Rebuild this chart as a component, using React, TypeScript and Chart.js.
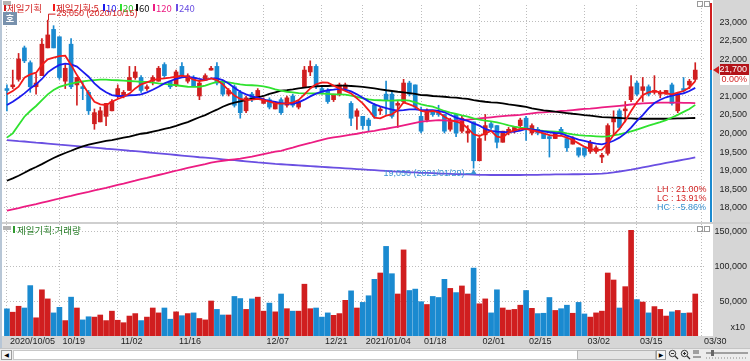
import React, { useEffect, useRef } from "react";
import { Chart, registerables } from "chart.js";

Chart.register(...registerables);

// ---------------- data ----------------
const DATES = [
  "2020/10/05","2020/10/06","2020/10/07","2020/10/08","2020/10/12","2020/10/13","2020/10/14","2020/10/15","2020/10/16",
  "2020/10/19","2020/10/20","2020/10/21","2020/10/22","2020/10/23",
  "2020/10/26","2020/10/27","2020/10/28","2020/10/29","2020/10/30",
  "2020/11/02","2020/11/03","2020/11/04","2020/11/05","2020/11/06",
  "2020/11/09","2020/11/10","2020/11/11","2020/11/12","2020/11/13",
  "2020/11/16","2020/11/17","2020/11/18","2020/11/19","2020/11/20",
  "2020/11/23","2020/11/24","2020/11/25","2020/11/26","2020/11/27",
  "2020/11/30","2020/12/01","2020/12/02","2020/12/03","2020/12/04",
  "2020/12/07","2020/12/08","2020/12/09","2020/12/10","2020/12/11",
  "2020/12/14","2020/12/15","2020/12/16","2020/12/17","2020/12/18",
  "2020/12/21","2020/12/22","2020/12/23","2020/12/24",
  "2020/12/28","2020/12/29","2020/12/30",
  "2021/01/04","2021/01/05","2021/01/06","2021/01/07","2021/01/08",
  "2021/01/11","2021/01/12","2021/01/13","2021/01/14","2021/01/15",
  "2021/01/18","2021/01/19","2021/01/20","2021/01/21","2021/01/22",
  "2021/01/25","2021/01/26","2021/01/27","2021/01/28","2021/01/29",
  "2021/02/01","2021/02/02","2021/02/03","2021/02/04","2021/02/05",
  "2021/02/08","2021/02/09","2021/02/10",
  "2021/02/15","2021/02/16","2021/02/17","2021/02/18","2021/02/19",
  "2021/02/22","2021/02/23","2021/02/24","2021/02/25","2021/02/26",
  "2021/03/02","2021/03/03","2021/03/04","2021/03/05",
  "2021/03/08","2021/03/09","2021/03/10","2021/03/11","2021/03/12",
  "2021/03/15","2021/03/16","2021/03/17","2021/03/18","2021/03/19",
  "2021/03/22","2021/03/23","2021/03/24","2021/03/25","2021/03/26",
  "2021/03/29","2021/03/30",
];

const AXIS_DATES = ["2020/10/05","2020/10/19","2020/11/02","2020/11/16","2020/12/07","2020/12/21","2021/01/04","2021/01/18","2021/02/01","2021/02/15","2021/03/02","2021/03/15","2021/03/30"];
const AXIS_LABELS = ["2020/10/05","10/19","11/02","11/16","12/07","12/21","2021/01/04","01/18","02/01","02/15","03/02","03/15","03/30"];

const PRICE_TICKS = [18000, 18500, 19000, 19500, 20000, 20500, 21000, 21500, 22000, 22500, 23000];
const VOLUME_TICKS = [50000, 100000, 150000];

const SERIES_NAMES = ["제일기획", "제일기획:5", "10", "20", "60", "120", "240"];
const VOLUME_NAME = "제일기획:거래량";
const CHANGE_TEXT = "0.00%";

const OPEN = [
  21200,21250,21450,22300,21900,21250,21550,22300,22800,22600,
  21400,22400,21300,21250,21100,20250,20300,20450,20600,21000,
  21000,21150,21500,21500,21200,21400,21400,21850,21400,21300,
  21800,21400,21500,21000,21450,21700,21800,21350,21050,21250,
  21100,20600,21050,20950,20800,20900,20650,20900,20750,21000,
  20700,21250,21650,21800,21200,21150,20900,21050,21200,20800,
  20450,20450,20350,20750,20600,21050,21050,20750,20850,21350,
  21300,20450,20350,20600,20550,20500,20100,20500,20050,20000,
  20300,19250,19950,20250,20200,19750,20000,20050,20200,20400,
  20000,20100,20000,19900,19850,20100,19850,19700,19600,19600,
  19500,19500,19350,19450,20300,20600,20600,20900,21350,21150,
  21250,21100,21050,21050,21300,20600,21200,21300,21450,
];
const HIGH = [
  21300,21700,22150,22350,21950,21600,22550,23050,22900,22600,
  21850,22550,21500,21400,21150,20650,20700,20800,20900,21300,
  21150,21800,21800,21550,21300,21550,21800,21900,21400,21700,
  21900,21600,21550,21400,21600,21800,21900,21400,21200,21300,
  21150,21000,21100,21200,20950,20950,20850,20950,21000,21050,
  20900,21800,21950,21850,21250,21200,21050,21350,21350,20850,
  20650,20450,20400,20800,20700,21400,21100,20850,21450,21400,
  21300,20700,20650,20600,20750,20500,20400,20500,20450,20200,
  20300,19900,20500,20300,20200,20050,20150,20150,20400,20450,
  20250,20150,20000,19950,20000,20150,19900,19900,19600,19600,
  19800,19650,19450,20250,20600,20650,20850,21550,21400,21500,
  21300,21550,21150,21150,21350,21100,21500,21450,21900,
];
const LOW = [
  20600,21200,21400,21900,21100,21050,21550,22300,22300,21450,
  21200,21200,20750,20900,20500,20100,20300,20200,20600,20950,
  20950,21150,21450,21100,21150,21300,21400,21500,21200,21250,
  21500,21350,21250,20900,21450,21700,21300,21000,21000,20700,
  20400,20550,20850,20900,20800,20650,20650,20500,20700,20700,
  20650,21250,21550,21200,21050,20800,20850,21000,21150,20200,
  20100,20100,20050,20400,20500,20500,20400,20150,20800,21000,
  20650,20000,20300,20450,20450,20000,20050,19900,20000,19750,
  19050,19250,19800,20100,19600,19750,19950,20000,20150,19800,
  19950,19950,19850,19350,19850,19950,19500,19700,19350,19350,
  19450,19450,19200,19400,19950,20100,20300,20850,21000,20850,
  21000,21050,20950,21050,20750,20550,21100,21200,21400,
];
const CLOSE = [
  21150,21300,22000,21950,21250,21350,22400,22650,22300,21500,
  21750,21250,21500,21200,20600,20550,20600,20800,20850,21200,
  21100,21500,21650,21150,21250,21500,21750,21550,21250,21650,
  21550,21550,21250,21350,21550,21750,21350,21050,21150,20750,
  20550,20950,20900,21150,20900,20700,20800,20550,20950,20750,
  20850,21700,21800,21250,21100,20850,21050,21300,21300,20400,
  20600,20200,20200,20450,20650,20900,20450,20800,21350,21050,
  20700,20050,20600,20500,20500,20050,20350,20000,20400,20050,
  19250,19850,20200,20150,19750,20050,20100,20150,20350,20100,
  20200,20000,19850,19850,20000,20000,19600,19850,19400,19400,
  19750,19600,19400,20200,20400,20150,20650,21250,21050,21250,
  21050,21150,21100,21150,20800,21050,21150,21400,21700,
];
const VOLUME = [
  38800,34000,42500,40000,72000,26000,66000,53000,33000,41000,
  22000,55500,40000,23000,27500,27000,30000,22000,35500,22500,
  19000,28500,32000,22000,27000,40000,33000,40000,24000,34500,
  29000,32000,33000,25000,23000,50000,38000,30000,30000,56500,
  53500,38000,53000,55500,35500,47000,34500,60000,39000,35500,
  35500,74000,39000,40000,27000,33000,29500,32000,51000,64500,
  40000,48000,57500,81000,90000,128000,89000,60000,123000,65000,
  67000,49000,45000,56500,55000,81000,68000,62000,71500,60000,
  97000,46000,53000,33000,66000,40000,37000,38000,44000,65000,
  39500,32000,32500,55000,36500,39000,44000,32500,48000,31500,
  27000,33000,35500,90000,80000,40000,70500,151000,52000,48500,
  33000,42000,38000,28500,34500,36500,32500,33000,60000,
];
const MA5 = [
  21045,21135,21250,21495,21585,21630,21840,21990,22035,22080,
  22090,21840,21565,21315,21070,20845,20775,20755,20845,20920,
  20980,21065,21205,21315,21370,21430,21460,21475,21495,21520,
  21550,21520,21440,21405,21430,21475,21430,21315,21160,21010,
  20920,20890,20900,20920,20890,20845,20800,20795,20800,20820,
  20890,21045,21205,21315,21370,21360,21280,21205,21135,21070,
  20935,20800,20620,20415,20395,20470,20505,20620,20830,20775,
  20710,20595,20575,20595,20560,20440,20350,20305,20260,20125,
  19965,19920,19990,20055,19900,19875,20020,20070,20110,20110,
  20070,20035,19990,19945,19920,19930,19875,19810,19720,19630,
  19565,19540,19550,19720,19945,20110,20325,20595,20830,21025,
  21100,21135,21100,21070,21045,21090,21135,21230,21400,
];
const MA10 = [
  20755,20845,20955,21070,21205,21315,21460,21640,21750,21840,
  21875,21855,21795,21660,21520,21340,21205,21100,21025,21000,
  21000,21020,21025,21045,21100,21170,21250,21340,21405,21460,
  21505,21515,21495,21460,21430,21475,21475,21430,21340,21225,
  21115,21045,20990,20955,20910,20865,20840,20810,20795,20785,
  20830,20900,20990,21065,21115,21155,21170,21190,21170,21125,
  21045,20955,20855,20775,20720,20675,20630,20605,20620,20640,
  20640,20620,20620,20615,20595,20560,20485,20415,20370,20325,
  20260,20200,20110,20055,20035,20025,20025,20035,20065,20110,
  20100,20070,20045,20020,20000,19990,19930,19875,19820,19785,
  19745,19710,19695,19730,19790,19875,19990,20145,20325,20485,
  20665,20810,20900,20965,21010,21045,21070,21135,21220,
];
const MA20 = [
  19875,19990,20215,20440,20595,20730,20890,21045,21160,21245,
  21295,21335,21370,21395,21415,21430,21440,21440,21430,21425,
  21415,21405,21395,21385,21380,21360,21340,21325,21305,21290,
  21270,21250,21245,21250,21280,21335,21380,21385,21370,21340,
  21315,21295,21290,21280,21260,21225,21180,21145,21115,21100,
  21080,21070,21070,21070,21065,21055,21045,21045,21035,21010,
  20975,20935,20910,20890,20885,20875,20875,20885,20890,20875,
  20830,20775,20740,20710,20655,20595,20550,20515,20475,20440,
  20395,20360,20335,20315,20290,20250,20205,20170,20145,20125,
  20100,20070,20055,20045,20035,20020,19990,19965,19945,19930,
  19920,19910,19900,19910,19935,19965,20000,20045,20090,20145,
  20200,20245,20295,20350,20420,20490,20570,20650,20760,
];
const MA60 = [
  18710,18775,18845,18925,19010,19080,19160,19245,19325,19395,
  19460,19520,19585,19640,19685,19720,19755,19785,19810,19840,
  19875,19900,19945,19980,20000,20035,20070,20110,20145,20190,
  20245,20295,20360,20425,20485,20560,20630,20710,20775,20820,
  20855,20890,20930,20965,21000,21055,21100,21145,21160,21180,
  21205,21225,21245,21260,21270,21270,21280,21280,21280,21270,
  21260,21245,21225,21205,21180,21155,21135,21115,21100,21080,
  21055,21025,21020,21000,20990,20980,20965,20955,20935,20920,
  20890,20865,20845,20830,20820,20800,20775,20755,20730,20705,
  20665,20640,20610,20595,20575,20560,20540,20520,20505,20485,
  20470,20450,20430,20425,20415,20405,20395,20395,20385,20385,
  20385,20385,20385,20385,20390,20395,20395,20400,20405,
];
const MA120 = [
  17900,17935,17970,18010,18045,18080,18120,18155,18190,18230,
  18265,18300,18340,18375,18410,18450,18485,18520,18560,18595,
  18630,18670,18710,18755,18790,18830,18865,18900,18945,18980,
  19020,19055,19090,19125,19160,19200,19225,19250,19270,19290,
  19305,19335,19360,19395,19430,19460,19495,19520,19565,19605,
  19650,19690,19730,19775,19815,19855,19880,19905,19930,19955,
  19980,20010,20035,20060,20090,20115,20145,20170,20205,20240,
  20275,20305,20320,20335,20350,20340,20330,20335,20345,20360,
  20375,20395,20410,20425,20440,20455,20470,20480,20490,20510,
  20530,20550,20560,20570,20580,20595,20605,20620,20635,20650,
  20660,20675,20690,20705,20720,20735,20750,20770,20785,20800,
  20810,20815,20820,20820,20820,20820,20815,20815,20810,
];
const MA240 = [
  19810,19795,19780,19770,19755,19740,19730,19715,19700,19685,
  19675,19660,19645,19630,19620,19605,19590,19575,19565,19550,
  19535,19520,19510,19495,19480,19465,19450,19435,19420,19405,
  19390,19375,19360,19345,19335,19320,19305,19290,19275,19265,
  19250,19235,19220,19205,19195,19180,19165,19155,19145,19135,
  19125,19115,19105,19095,19085,19075,19065,19055,19045,19035,
  19025,19015,19005,18995,18985,18975,18965,18955,18950,18940,
  18935,18925,18920,18915,18905,18900,18895,18890,18885,18880,
  18875,18870,18870,18865,18865,18865,18865,18865,18865,18870,
  18870,18870,18875,18875,18880,18880,18880,18885,18885,18890,
  18890,18895,18900,18915,18935,18960,18985,19010,19040,19070,
  19100,19130,19160,19190,19220,19250,19280,19310,19340,
];

// ---------------- styles ----------------
const RED = "#d01e1f";
const BLUE = "#1a8ad0";
const RED_TEXT = "#d42626";
const BLUE_TEXT = "#3a93d2";
const AXIS_BG = "#d6d6d6";
const GRID = "#bdbdbd";
const FONT = '"Liberation Sans", Arial, sans-serif';
const KFONT = '"Noto Sans CJK KR", "Noto Sans", sans-serif';

const MA_STYLE = [
  { data: MA5, color: "#f21a1a" },
  { data: MA10, color: "#1a1aee" },
  { data: MA20, color: "#2fe22f" },
  { data: MA60, color: "#000000" },
  { data: MA120, color: "#ec1c82" },
  { data: MA240, color: "#6a4fe2" },
];
const LEGEND_X = [4, 53, 103, 120, 136, 153, 176];
const LEGEND_COLORS = [RED_TEXT, RED_TEXT, "#1a1aee", "#22c322", "#111111", "#ec1c82", "#6a4fe2"];

const fmt = (v: number) => v.toLocaleString("en-US");
const isUp = (i: number) => CLOSE[i] >= OPEN[i];
const candleColor = (c: any) => (isUp(c.dataIndex) ? RED : BLUE);

const filterDateTicks = (s: any) => {
  s.ticks = s.ticks.filter((t: any) => AXIS_DATES.includes(DATES[t.value]));
};

function drawRightLabels(chart: any, ticks: number[]) {
  const { ctx, scales } = chart;
  ctx.save();
  ctx.font = `9px ${FONT}`;
  ctx.fillStyle = "#1e1e1e";
  ctx.textAlign = "right";
  ctx.textBaseline = "middle";
  for (const v of ticks) ctx.fillText(fmt(v), 747, Math.round(scales.y.getPixelForValue(v)) + 0.5);
  ctx.restore();
}

function drawPanelIcons(ctx: any, y: number) {
  ctx.fillStyle = "#b4b4b4";
  ctx.fillRect(3, y, 8, 4);
  ctx.strokeStyle = "#9a9a9a";
  ctx.lineWidth = 1;
  ctx.strokeRect(697.5, y + 0.5, 5, 5);
  ctx.strokeRect(704.5, y + 0.5, 5, 5);
}

const pricePlugin = {
  id: "pricePanel",
  beforeDraw(chart: any) {
    const { ctx, width, height } = chart;
    ctx.save();
    ctx.fillStyle = "#ffffff";
    ctx.fillRect(0, 0, width, height);
    ctx.fillStyle = AXIS_BG;
    ctx.fillRect(713, 0, width - 713, height);
    ctx.restore();
  },
  afterDraw(chart: any) {
    const { ctx, chartArea: ca, scales } = chart;
    const { x, y } = scales;
    drawRightLabels(chart, PRICE_TICKS);
    const n = CLOSE.length;
    const last = CLOSE[n - 1];
    const yl = Math.round(y.getPixelForValue(last));
    ctx.save();
    ctx.fillStyle = RED;
    ctx.fillRect(710, 3, 2, yl - 3);
    ctx.fillStyle = BLUE;
    ctx.fillRect(710, yl, 2, ca.bottom - yl);
    ctx.fillStyle = RED;
    ctx.beginPath();
    ctx.moveTo(713, yl);
    ctx.lineTo(719, yl - 4);
    ctx.lineTo(719, yl + 4);
    ctx.closePath();
    ctx.fill();
    ctx.fillStyle = "#b3141a";
    ctx.fillRect(720, yl - 6, 29, 11);
    ctx.font = `9px ${FONT}`;
    ctx.textAlign = "right";
    ctx.textBaseline = "middle";
    ctx.fillStyle = "#ffffff";
    ctx.fillText(fmt(last), 747, yl);
    ctx.fillRect(720, yl + 5, 29, 10);
    ctx.fillStyle = RED_TEXT;
    ctx.fillText(CHANGE_TEXT, 747, yl + 10);

    ctx.font = `9.5px ${KFONT}`;
    ctx.textAlign = "left";
    SERIES_NAMES.forEach((name, k) => {
      const lx = LEGEND_X[k];
      ctx.fillStyle = k === 0 ? RED : MA_STYLE[k - 1].color;
      ctx.fillRect(lx, 4, 2, 7);
      ctx.fillStyle = LEGEND_COLORS[k];
      ctx.fillText(name, lx + 3, 8);
    });
    drawPanelIcons(ctx, 1);
    ctx.fillStyle = "#7891ad";
    ctx.fillRect(3, 12, 14, 13);
    ctx.fillStyle = "#ffffff";
    ctx.font = `bold 9px ${KFONT}`;
    ctx.textAlign = "center";
    ctx.fillText("호", 10, 18.5);

    const hi = Math.max(...HIGH);
    const lo = Math.min(...LOW);
    const iHi = HIGH.indexOf(hi);
    const iLo = LOW.indexOf(lo);
    const xh = Math.round(x.getPixelForValue(iHi)) + 0.5;
    const yh = y.getPixelForValue(hi);
    ctx.strokeStyle = RED;
    ctx.lineWidth = 1;
    ctx.beginPath();
    ctx.moveTo(xh, yh);
    ctx.lineTo(xh, yh - 6);
    ctx.lineTo(xh + 7, yh - 6);
    ctx.stroke();
    ctx.font = `9px ${FONT}`;
    ctx.textAlign = "left";
    ctx.fillStyle = RED_TEXT;
    ctx.fillText(`${fmt(hi)} (${DATES[iHi]})`, xh + 8, yh - 7);

    const xm = x.getPixelForValue(iLo);
    const ym = y.getPixelForValue(lo);
    ctx.fillStyle = BLUE_TEXT;
    ctx.beginPath();
    ctx.moveTo(xm, ym + 1);
    ctx.lineTo(xm - 3, ym + 6);
    ctx.lineTo(xm + 3, ym + 6);
    ctx.closePath();
    ctx.fill();
    ctx.fillRect(xm - 8, ym + 5, 6, 1);
    ctx.textAlign = "right";
    ctx.fillText(`${fmt(lo)} (${DATES[iLo]})`, xm - 9, ym + 5);

    const rows = [
      [`LH : ${(((hi - lo) / lo) * 100).toFixed(2)}%`, RED_TEXT],
      [`LC : ${(((last - lo) / lo) * 100).toFixed(2)}%`, RED_TEXT],
      [`HC : ${(((last - hi) / hi) * 100).toFixed(2)}%`, BLUE_TEXT],
    ];
    ctx.textAlign = "left";
    rows.forEach(([t, c], k) => {
      ctx.fillStyle = c;
      ctx.fillText(t, 657, ca.bottom - 32 + 9 * k);
    });
    ctx.restore();
  },
};

const volumePlugin = {
  id: "volumePanel",
  beforeDraw(chart: any) {
    const { ctx, width, height, chartArea: ca } = chart;
    ctx.save();
    ctx.fillStyle = "#ffffff";
    ctx.fillRect(0, 0, width, height);
    ctx.fillStyle = AXIS_BG;
    ctx.fillRect(713, 0, width - 713, height);
    ctx.fillRect(0, ca.bottom, width, height - ca.bottom);
    ctx.fillStyle = "#cfcfcf";
    ctx.fillRect(0, 0, width, 2);
    ctx.restore();
  },
  afterDraw(chart: any) {
    const { ctx, scales } = chart;
    drawRightLabels(chart, VOLUME_TICKS);
    ctx.save();
    ctx.font = `9px ${FONT}`;
    ctx.fillStyle = "#1e1e1e";
    ctx.textAlign = "right";
    ctx.textBaseline = "middle";
    ctx.fillText("x10", 745, scales.y.bottom - 8);
    drawPanelIcons(ctx, 4);
    ctx.fillStyle = "#2f9a2f";
    ctx.fillRect(13, 4, 2, 7);
    ctx.fillStyle = "#2a7f2a";
    ctx.font = `9.5px ${KFONT}`;
    ctx.textAlign = "left";
    ctx.fillText(VOLUME_NAME, 17, 8);
    ctx.restore();
  },
};

function priceConfig(): any {
  return {
    type: "bar",
    data: {
      labels: DATES,
      datasets: [
        ...MA_STYLE.map((m, k) => ({
          type: "line",
          label: SERIES_NAMES[k + 1],
          data: m.data,
          borderColor: m.color,
          borderWidth: 1.8,
          pointRadius: 0,
          tension: 0,
          fill: false,
          order: k,
        })),
        {
          type: "bar",
          label: "wick",
          data: LOW.map((l, i) => [l, HIGH[i]]),
          backgroundColor: candleColor,
          barThickness: 1,
          grouped: false,
          order: 20,
        },
        {
          type: "bar",
          label: SERIES_NAMES[0],
          data: OPEN.map((o, i) => [o, CLOSE[i]]),
          backgroundColor: candleColor,
          barThickness: 4,
          minBarLength: 1,
          grouped: false,
          order: 19,
        },
      ],
    },
    options: {
      responsive: false,
      animation: false,
      events: [],
      layout: { padding: { left: 4, top: 5, right: 0, bottom: 0 } },
      plugins: { legend: { display: false }, tooltip: { enabled: false } },
      scales: {
        x: {
          type: "category",
          offset: true,
          grid: { color: GRID, offset: false, drawTicks: false },
          border: { display: false, dash: [1, 2] },
          ticks: { display: false, autoSkip: false },
          afterBuildTicks: filterDateTicks,
          afterFit: (s: any) => { s.height = 0; },
        },
        y: {
          position: "right",
          min: 17595,
          max: 23459,
          grid: { color: GRID, drawTicks: false },
          border: { display: false, dash: [1, 2] },
          ticks: { display: false },
          afterBuildTicks: (s: any) => { s.ticks = PRICE_TICKS.map((v) => ({ value: v })); },
          afterFit: (s: any) => { s.width = 46; },
        },
      },
    },
    plugins: [pricePlugin],
  };
}

function volumeConfig(): any {
  return {
    type: "bar",
    data: {
      labels: DATES,
      datasets: [
        {
          label: VOLUME_NAME,
          data: VOLUME,
          backgroundColor: candleColor,
          barThickness: 5,
        },
      ],
    },
    options: {
      responsive: false,
      animation: false,
      events: [],
      layout: { padding: { left: 4, top: 2, right: 0, bottom: 0 } },
      plugins: { legend: { display: false }, tooltip: { enabled: false } },
      scales: {
        x: {
          type: "category",
          offset: true,
          grid: { color: GRID, offset: false, drawTicks: false },
          border: { display: false, dash: [1, 2] },
          ticks: {
            autoSkip: false,
            maxRotation: 0,
            minRotation: 0,
            align: "start",
            labelOffset: 3,
            padding: 0,
            color: "#1e1e1e",
            font: { family: FONT, size: 9 },
            callback: (v: any) => AXIS_LABELS[AXIS_DATES.indexOf(DATES[v])],
          },
          afterBuildTicks: filterDateTicks,
          afterFit: (s: any) => { s.height = 12; },
        },
        y: {
          position: "right",
          min: 0,
          max: 160000,
          grid: { color: GRID, drawTicks: false },
          border: { display: false, dash: [1, 2] },
          ticks: { display: false },
          afterBuildTicks: (s: any) => { s.ticks = VOLUME_TICKS.map((v) => ({ value: v })); },
          afterFit: (s: any) => { s.width = 46; },
        },
      },
    },
    plugins: [volumePlugin],
  };
}

const btn: any = {
  position: "absolute",
  top: 1,
  height: 10,
  background: "#f5f5f5",
  border: "1px solid #9e9e9e",
  boxSizing: "border-box",
  fontSize: 6,
  lineHeight: "8px",
  textAlign: "center",
  color: "#000",
};

function BottomBar() {
  return (
    <div style={{ position: "absolute", left: 0, top: 348, width: 750, height: 13, background: "#ececec", borderTop: "1px solid #c4c4c4", boxSizing: "border-box", fontFamily: '"DejaVu Sans", sans-serif' }}>
      <div style={{ ...btn, left: 1, width: 11 }}>◀</div>
      <div style={{ position: "absolute", left: 13, top: 1, width: 643, height: 10, background: "#ffffff", border: "1px solid #c8c8c8", boxSizing: "border-box" }} />
      <div style={{ position: "absolute", left: 577, top: 1, width: 79, height: 10, background: "#e4e4e4", border: "1px solid #b5b5b5", boxSizing: "border-box" }} />
      <div style={{ ...btn, left: 656, width: 10 }}>▶</div>
      <svg width="40" height="11" style={{ position: "absolute", left: 668, top: 0 }}>
        <circle cx="4.5" cy="4.5" r="3.2" fill="none" stroke="#333" strokeWidth="1" />
        <line x1="7" y1="7" x2="10" y2="10" stroke="#333" strokeWidth="1.3" />
        <line x1="3" y1="4.5" x2="6" y2="4.5" stroke="#333" strokeWidth="1" />
        <circle cx="16.5" cy="4.5" r="3.2" fill="none" stroke="#333" strokeWidth="1" />
        <line x1="19" y1="7" x2="22" y2="10" stroke="#333" strokeWidth="1.3" />
        <line x1="15" y1="4.5" x2="18" y2="4.5" stroke="#333" strokeWidth="1" />
        <line x1="16.5" y1="3" x2="16.5" y2="6" stroke="#333" strokeWidth="1" />
        <line x1="26" y1="1" x2="26" y2="5" stroke="#555" />
        <line x1="28" y1="1" x2="28" y2="5" stroke="#555" />
        <line x1="30" y1="1" x2="30" y2="5" stroke="#555" />
        <line x1="25" y1="8" x2="33" y2="8" stroke="#555" />
      </svg>
      <svg width="44" height="11" style={{ position: "absolute", left: 705, top: 0 }}>
        <line x1="1" y1="4" x2="43" y2="4" stroke="#555" />
        <rect x="6" y="1" width="3" height="6" fill="#666" />
        <line x1="1" y1="9" x2="43" y2="9" stroke="#888" strokeDasharray="1 2" />
      </svg>
    </div>
  );
}

export default function App() {
  const priceRef = useRef<HTMLCanvasElement>(null);
  const volRef = useRef<HTMLCanvasElement>(null);
  useEffect(() => {
    document.body.style.margin = "0";
    const pc = new Chart(priceRef.current as HTMLCanvasElement, priceConfig());
    const vc = new Chart(volRef.current as HTMLCanvasElement, volumeConfig());
    return () => {
      pc.destroy();
      vc.destroy();
    };
  }, []);
  return (
    <div style={{ position: "relative", width: 750, height: 361, overflow: "hidden", background: "#ffffff" }}>
      <canvas ref={priceRef} width={750} height={222} style={{ position: "absolute", left: 0, top: 0 }} />
      <canvas ref={volRef} width={750} height={126} style={{ position: "absolute", left: 0, top: 222 }} />
      <div style={{ position: "absolute", left: 0, top: 0, width: 2, height: 348, background: "#b7c6d6" }} />
      <BottomBar />
    </div>
  );
}
